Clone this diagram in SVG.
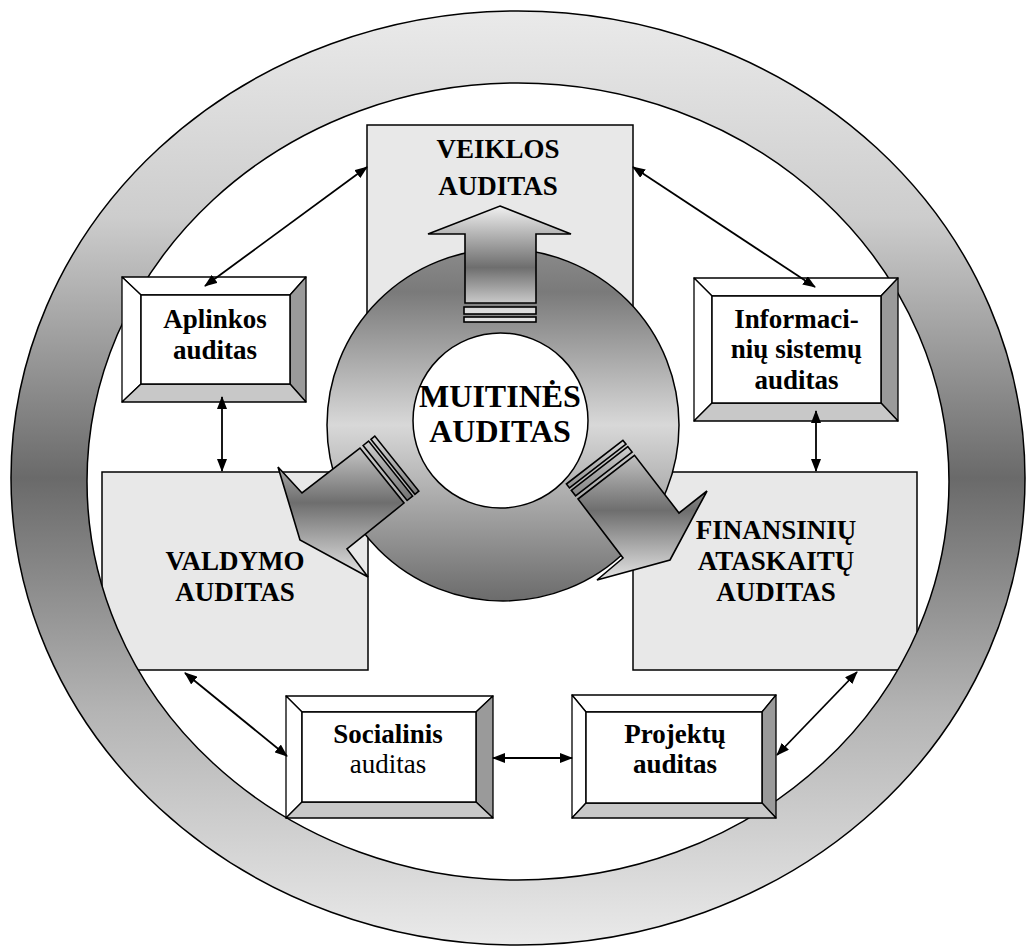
<svg xmlns="http://www.w3.org/2000/svg" width="1027" height="946" viewBox="0 0 1027 946">
  <style>
    .panel { fill: #e8e8e8; stroke: #000; stroke-width: 1.5; }
    .face { fill: #ffffff; stroke: #000; stroke-width: 1.5; }
    .bev-light { fill: #ffffff; stroke: #000; stroke-width: 1.3; stroke-linejoin: round; }
    .bev-mid { fill: #c8c8c8; stroke: #000; stroke-width: 1.3; stroke-linejoin: round; }
    .bev-dark { fill: #9a9a9a; stroke: #000; stroke-width: 1.3; stroke-linejoin: round; }
    .lbl { font-family: "Liberation Serif", "Times New Roman", serif; font-size: 27px; font-weight: bold; fill: #000; text-anchor: middle; }
    .plain { font-weight: normal; }
    .big { font-size: 32px; }
    .conn { stroke: #000; stroke-width: 1.8; fill: none; marker-start: url(#head); marker-end: url(#head); }
    .arr { stroke: #000; stroke-width: 1.6; stroke-linejoin: miter; }
  </style>
  <defs>
    <marker id="head" viewBox="0 0 13 10" refX="12" refY="5" markerWidth="13" markerHeight="10" markerUnits="userSpaceOnUse" orient="auto-start-reverse">
      <path d="M0,0 L13,5 L0,10 z" fill="#000"/>
    </marker>
    <linearGradient id="ringGrad" gradientUnits="userSpaceOnUse" x1="0" y1="11" x2="0" y2="945">
      <stop offset="0" stop-color="#eaeaea"/>
      <stop offset="0.22" stop-color="#cdcdcd"/>
      <stop offset="0.5" stop-color="#6a6a6a"/>
      <stop offset="0.75" stop-color="#b4b4b4"/>
      <stop offset="1" stop-color="#eaeaea"/>
    </linearGradient>
    <linearGradient id="hubGrad" gradientUnits="userSpaceOnUse" x1="0" y1="250" x2="0" y2="600">
      <stop offset="0" stop-color="#8a8a8a"/>
      <stop offset="0.12" stop-color="#7a7a7a"/>
      <stop offset="0.5" stop-color="#d8d8d8"/>
      <stop offset="1" stop-color="#6c6c6c"/>
    </linearGradient>
    <linearGradient id="upGrad" gradientUnits="userSpaceOnUse" x1="0" y1="206" x2="0" y2="322">
      <stop offset="0" stop-color="#f0f0f0"/>
      <stop offset="0.53" stop-color="#6e6e6e"/>
      <stop offset="0.9" stop-color="#dcdcdc"/>
      <stop offset="1" stop-color="#e4e4e4"/>
    </linearGradient>
    <linearGradient id="leftGrad" gradientUnits="userSpaceOnUse" x1="0" y1="436" x2="0" y2="578">
      <stop offset="0" stop-color="#d8d8d8"/>
      <stop offset="0.47" stop-color="#6e6e6e"/>
      <stop offset="1" stop-color="#e6e6e6"/>
    </linearGradient>
    <linearGradient id="rightGrad" gradientUnits="userSpaceOnUse" x1="0" y1="440" x2="0" y2="581">
      <stop offset="0" stop-color="#d8d8d8"/>
      <stop offset="0.5" stop-color="#6e6e6e"/>
      <stop offset="1" stop-color="#e6e6e6"/>
    </linearGradient>
  </defs>

  <!-- large audit panels -->
  <g id="veiklos">
    <rect class="panel" x="367" y="125" width="266" height="200"/>
    <text class="lbl" x="498" y="158">VEIKLOS</text>
    <text class="lbl" x="498" y="195">AUDITAS</text>
  </g>
  <g id="valdymo">
    <rect class="panel" x="102" y="472" width="266" height="198"/>
    <text class="lbl" x="235" y="570">VALDYMO</text>
    <text class="lbl" x="235" y="601">AUDITAS</text>
  </g>
  <g id="finansiniu">
    <rect class="panel" x="633" y="472" width="284" height="198"/>
    <text class="lbl" x="776" y="539">FINANSINIŲ</text>
    <text class="lbl" x="776" y="570">ATASKAITŲ</text>
    <text class="lbl" x="776" y="601">AUDITAS</text>
  </g>

  <!-- outer ring -->
  <g id="ring">
    <path fill="url(#ringGrad)" fill-rule="evenodd" stroke="#000" stroke-width="1.5"
      d="M11,478 a507,467 0 1,0 1014,0 a507,467 0 1,0 -1014,0 Z M87,481.5 a431,398.5 0 1,0 862,0 a431,398.5 0 1,0 -862,0 Z"/>
  </g>

  <!-- central hub -->
  <g id="muitines">
    <circle cx="503" cy="425" r="176" fill="url(#hubGrad)" stroke="#000" stroke-width="1.5"/>
    <circle cx="500.5" cy="420.5" r="87.5" fill="#fff" stroke="#000" stroke-width="1.5"/>
    <text class="lbl big" x="500" y="407">MUITINĖS</text>
    <text class="lbl big" x="500" y="442">AUDITAS</text>
  </g>

  <!-- hub arrows -->
  <g id="arrow-up">
    <polygon class="arr" fill="url(#upGrad)" points="500,206 571,234 536,234 536,303 465,303 465,234 428,234"/>
    <rect class="arr" fill="url(#upGrad)" x="464" y="307" width="72" height="7"/>
    <rect class="arr" fill="url(#upGrad)" x="464" y="317" width="72" height="5"/>
  </g>
  <g id="arrow-left">
    <polygon class="arr" fill="url(#leftGrad)" points="300,540 278,467 302,493 360,448 404,503 347,549 368,577"/>
    <polygon class="arr" fill="url(#leftGrad)" points="363.1,445.5 407.1,500.5 412.6,496.1 368.6,441.1"/>
    <polygon class="arr" fill="url(#leftGrad)" points="370.9,439.3 414.9,494.3 418.8,491.1 374.8,436.1"/>
  </g>
  <g id="arrow-right">
    <polygon class="arr" fill="url(#rightGrad)" points="670,560 707,491 679,513 634.5,455.3 578,499 623,558 597,580"/>
    <polygon class="arr" fill="url(#rightGrad)" points="632.1,452.1 575.6,495.8 571.3,490.3 627.8,446.6"/>
    <polygon class="arr" fill="url(#rightGrad)" points="626,444.2 569.5,487.9 566.4,484 622.9,440.3"/>
  </g>

  <!-- bevelled boxes -->
  <g id="aplinkos">
    <polygon class="bev-light" points="122,277 306,277 290,295 141,295"/>
    <polygon class="bev-light" points="122,277 141,295 141,384 122,402"/>
    <polygon class="bev-dark" points="306,277 306,402 290,384 290,295"/>
    <polygon class="bev-mid" points="122,402 141,384 290,384 306,402"/>
    <rect class="face" x="141" y="295" width="149" height="89"/>
    <text class="lbl" x="215" y="328">Aplinkos</text>
    <text class="lbl" x="215" y="359">auditas</text>
  </g>
  <g id="informaciniu">
    <polygon class="bev-light" points="694,278 898,278 881,296 712,296"/>
    <polygon class="bev-light" points="694,278 712,296 712,403 694,421"/>
    <polygon class="bev-dark" points="898,278 898,421 881,403 881,296"/>
    <polygon class="bev-mid" points="694,421 712,403 881,403 898,421"/>
    <rect class="face" x="712" y="296" width="169" height="107"/>
    <text class="lbl" x="796.5" y="328">Informaci-</text>
    <text class="lbl" x="796.5" y="358">nių sistemų</text>
    <text class="lbl" x="796.5" y="389">auditas</text>
  </g>
  <g id="socialinis">
    <polygon class="bev-light" points="286,696 493,696 476,712 302,712"/>
    <polygon class="bev-light" points="286,696 302,712 302,802 286,818"/>
    <polygon class="bev-dark" points="493,696 493,818 476,802 476,712"/>
    <polygon class="bev-mid" points="286,818 302,802 476,802 493,818"/>
    <rect class="face" x="302" y="712" width="174" height="90"/>
    <text class="lbl" x="388" y="743">Socialinis</text>
    <text class="lbl plain" x="388" y="773">auditas</text>
  </g>
  <g id="projektu">
    <polygon class="bev-light" points="572,695 776,695 762,712 586,712"/>
    <polygon class="bev-light" points="572,695 586,712 586,803 572,818"/>
    <polygon class="bev-dark" points="776,695 776,818 762,803 762,712"/>
    <polygon class="bev-mid" points="572,818 586,803 762,803 776,818"/>
    <rect class="face" x="586" y="712" width="176" height="91"/>
    <text class="lbl" x="675" y="743">Projektų</text>
    <text class="lbl" x="675" y="773">auditas</text>
  </g>

  <!-- two-way links -->
  <g id="connectors">
    <line class="conn" x1="205" y1="286" x2="367" y2="167"/>
    <line class="conn" x1="633" y1="167" x2="815" y2="287"/>
    <line class="conn" x1="222" y1="397" x2="222" y2="471"/>
    <line class="conn" x1="816" y1="411" x2="816" y2="471"/>
    <line class="conn" x1="185" y1="673" x2="287" y2="756"/>
    <line class="conn" x1="493" y1="758" x2="572" y2="758"/>
    <line class="conn" x1="857" y1="672" x2="777" y2="755"/>
  </g>
</svg>
